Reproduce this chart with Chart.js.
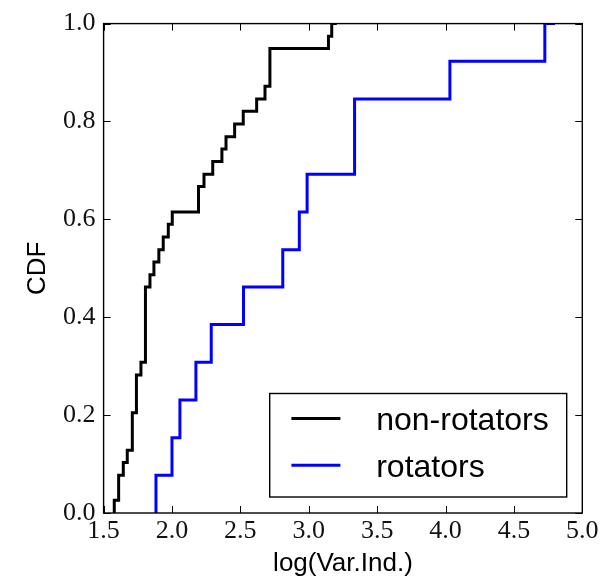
<!DOCTYPE html>
<html><head><meta charset="utf-8">
<script src="https://cdn.jsdelivr.net/npm/chart.js@4.4.0/dist/chart.umd.min.js"></script>
<style>html,body{margin:0;padding:0;background:#fff}canvas{display:block}</style>
</head><body>
<canvas id="c" width="614" height="582"></canvas>
<script>
// ---- data ----
const seriesNames = ['non-rotators', 'rotators'];
const seriesColors = ['#000000', '#0000ff'];
// sorted sample values (x where CDF steps up) and CDF level after each step
const nonRotX = [1.578, 1.610, 1.610, 1.644, 1.673, 1.710, 1.710, 1.710, 1.740, 1.740,
                 1.740, 1.773, 1.806, 1.806, 1.806, 1.806, 1.806, 1.806, 1.839, 1.868,
                 1.904, 1.936, 1.973, 2.002, 2.194, 2.194, 2.234, 2.298, 2.365, 2.395,
                 2.458, 2.521, 2.619, 2.680, 2.716, 2.716, 2.716, 3.144, 3.168, 3.205];
const nonRotCdf = [0.026, 0.051, 0.077, 0.103, 0.128, 0.154, 0.179, 0.205, 0.231, 0.256,
                   0.282, 0.308, 0.333, 0.359, 0.385, 0.410, 0.436, 0.462, 0.487, 0.513,
                   0.538, 0.564, 0.590, 0.615, 0.641, 0.667, 0.692, 0.718, 0.744, 0.769,
                   0.795, 0.821, 0.846, 0.872, 0.897, 0.923, 0.949, 0.974, 1.000, 1.000];
const rotX = [1.883, 2.000, 2.058, 2.175, 2.287, 2.523, 2.810, 2.931, 2.988, 3.335,
              3.335, 4.032, 4.726, 4.800];
const rotCdf = [0.077, 0.154, 0.231, 0.308, 0.385, 0.462, 0.538, 0.615, 0.692, 0.769,
                0.846, 0.923, 1.000, 1.000];
const xTickValues = [1.5, 2.0, 2.5, 3.0, 3.5, 4.0, 4.5, 5.0];
const yTickValues = [0.0, 0.2, 0.4, 0.6, 0.8, 1.0];
const xTitle = 'log(Var.Ind.)';
const yTitle = 'CDF';

function toPoints(xs, ys) {
  const pts = [{x: xs[0], y: 0}];
  xs.forEach((x, i) => pts.push({x: x, y: ys[i]}));
  return pts;
}

const framePlugin = {
  id: 'frame',
  afterDatasetsDraw(chart) {
    const {ctx, chartArea: a, scales: {x, y}} = chart;
    ctx.save();
    ctx.strokeStyle = '#000';
    ctx.lineWidth = 1;
    const L = 7;
    ctx.beginPath();
    x.ticks.forEach(t => {
      const px = Math.round(x.getPixelForValue(t.value)) + 0.5;
      ctx.moveTo(px, a.bottom); ctx.lineTo(px, a.bottom - L);
      ctx.moveTo(px, a.top); ctx.lineTo(px, a.top + L);
    });
    y.ticks.forEach(t => {
      const py = Math.round(y.getPixelForValue(t.value)) + 0.5;
      ctx.moveTo(a.left, py); ctx.lineTo(a.left + L, py);
      ctx.moveTo(a.right, py); ctx.lineTo(a.right - L, py);
    });
    ctx.stroke();
    ctx.lineWidth = 1.4;
    ctx.strokeRect(a.left, a.top, a.right - a.left, a.bottom - a.top);
    ctx.restore();
  }
};

const boxLegendPlugin = {
  id: 'boxLegend',
  afterDraw(chart) {
    const {ctx, chartArea: a} = chart;
    const w = 297, h = 103.5;
    const left = a.right - 15.6 - w, top = a.bottom - 16 - h;
    ctx.save();
    ctx.fillStyle = '#fff';
    ctx.fillRect(left, top, w, h);
    ctx.strokeStyle = '#000';
    ctx.lineWidth = 1.4;
    ctx.strokeRect(left, top, w, h);
    ctx.font = '32px "Liberation Sans", Arial, sans-serif';
    ctx.textBaseline = 'alphabetic';
    ctx.textAlign = 'left';
    chart.data.datasets.forEach((ds, i) => {
      const ly = top + 25 + i * 46.7;
      ctx.strokeStyle = ds.borderColor;
      ctx.lineWidth = 3;
      ctx.beginPath();
      ctx.moveTo(left + 21.7, ly);
      ctx.lineTo(left + 70.7, ly);
      ctx.stroke();
      ctx.fillStyle = '#000';
      ctx.fillText(ds.label, left + 106.5, ly + 11.5);
    });
    ctx.restore();
  }
};

const tickFont = {family: '"Liberation Serif", "Times New Roman", serif', size: 26};
const titleFont = {family: '"Liberation Sans", Arial, sans-serif', size: 26};

new Chart(document.getElementById('c'), {
  type: 'line',
  data: {
    datasets: [
      {label: seriesNames[0], data: toPoints(nonRotX, nonRotCdf), borderColor: seriesColors[0],
       borderWidth: 3, stepped: true, pointRadius: 0, fill: false, borderCapStyle: 'butt'},
      {label: seriesNames[1], data: toPoints(rotX, rotCdf), borderColor: seriesColors[1],
       borderWidth: 3, stepped: true, pointRadius: 0, fill: false, borderCapStyle: 'butt'}
    ]
  },
  options: {
    responsive: false,
    animation: false,
    devicePixelRatio: 1,
    layout: {padding: {left: 0, top: 19, right: 31.7, bottom: 0}},
    plugins: {legend: {display: false}, tooltip: {enabled: false}},
    scales: {
      x: {
        type: 'linear', min: 1.5, max: 5.0,
        afterBuildTicks: s => { s.ticks = xTickValues.map(v => ({value: v})); },
        afterFit: s => { s.height = 69; },
        grid: {display: false, drawTicks: false},
        border: {display: false},
        ticks: {font: tickFont, color: '#111', padding: 3, maxRotation: 0, autoSkip: false,
                callback: v => Number(v).toFixed(1)},
        title: {display: true, text: xTitle, font: titleFont, color: '#000',
                padding: {top: 0, bottom: 2.4}}
      },
      y: {
        type: 'linear', min: 0, max: 1,
        afterBuildTicks: s => { s.ticks = yTickValues.map(v => ({value: v})); },
        afterFit: s => { s.width = 103.6; },
        grid: {display: false, drawTicks: false},
        border: {display: false},
        ticks: {font: tickFont, color: '#111', padding: 8, autoSkip: false,
                callback: v => Number(v).toFixed(1)},
        title: {display: true, text: yTitle, font: titleFont, color: '#000',
                padding: {top: 22.4, bottom: 0}}
      }
    }
  },
  plugins: [framePlugin, boxLegendPlugin]
});
</script>
</body></html>
